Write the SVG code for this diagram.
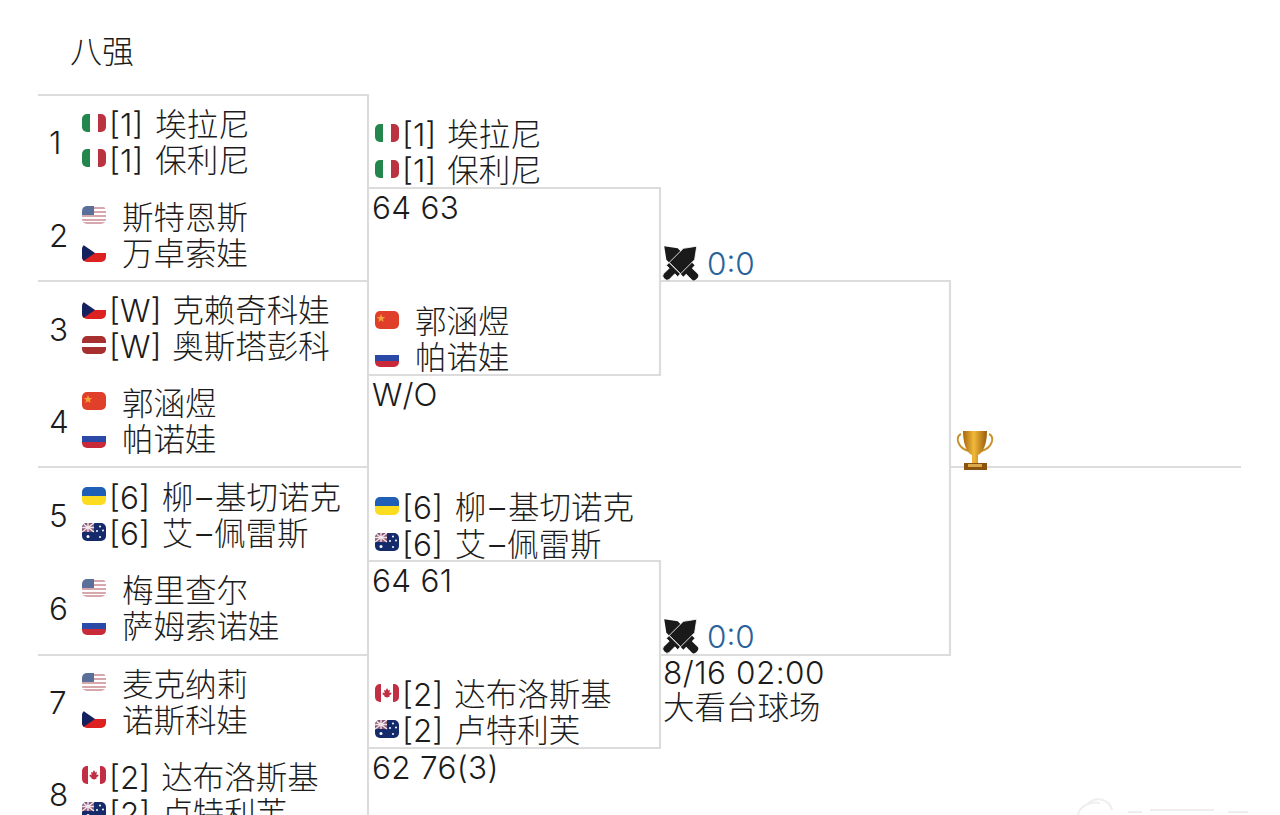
<svg xmlns="http://www.w3.org/2000/svg" width="1280" height="815" viewBox="0 0 1280 815">
<style>
text{font-family:"Inter","Noto Sans CJK SC",sans-serif;font-size:31.500px;font-weight:300;fill:#1c1c1c}
.c{stroke:#dcdcdc;stroke-width:2.200;fill:none}
text.s{fill:#2a6299}
</style>
<defs>
<linearGradient id="gold" x1="0" x2="1" y1="0" y2="0"><stop offset="0" stop-color="#a8660c"/><stop offset=".45" stop-color="#f0b93a"/><stop offset="1" stop-color="#9a5c0a"/></linearGradient>
<clipPath id="fc"><rect width="24" height="18" rx="5"/></clipPath>
<symbol id="it" width="24" height="18" overflow="visible"><g clip-path="url(#fc)"><rect width="8" height="18" fill="#23874d"/><rect x="8" width="8" height="18" fill="#fff"/><rect x="16" width="8" height="18" fill="#bb3340"/></g></symbol>
<symbol id="us" width="24" height="18" overflow="visible"><g clip-path="url(#fc)"><rect width="24" height="18" fill="#fff"/><path d="M0 2H24M0 6H24M0 10H24M0 14H24M0 17H24" stroke="#c98a92" stroke-width="1.400"/><rect width="12" height="9" fill="#5a6f99"/></g></symbol>
<symbol id="cz" width="24" height="18" overflow="visible"><g clip-path="url(#fc)"><rect width="24" height="9" fill="#fff"/><rect y="9" width="24" height="9" fill="#dd2020"/><path d="M0 0L13 9L0 18Z" fill="#15205f"/></g></symbol>
<symbol id="lv" width="24" height="18" overflow="visible"><g clip-path="url(#fc)"><rect width="24" height="18" fill="#a5302f"/><rect y="7" width="24" height="4" fill="#fff"/></g></symbol>
<symbol id="cn" width="24" height="18" overflow="visible"><g clip-path="url(#fc)"><rect width="24" height="18" fill="#e0402a"/><path d="M6 3l1.200 3 3 .1-2.400 2 .9 3-2.700-1.800-2.700 1.800.9-3-2.400-2 3-.1z" fill="#f3a13a"/></g></symbol>
<symbol id="ru" width="24" height="18" overflow="visible"><g clip-path="url(#fc)"><rect width="24" height="6" fill="#fff"/><rect y="6" width="24" height="6" fill="#2b4aa8"/><rect y="12" width="24" height="6" fill="#c92a3a"/></g></symbol>
<symbol id="ua" width="24" height="18" overflow="visible"><g clip-path="url(#fc)"><rect width="24" height="9" fill="#1f5fb5"/><rect y="9" width="24" height="9" fill="#fbdc1e"/></g></symbol>
<symbol id="au" width="24" height="18" overflow="visible"><g clip-path="url(#fc)"><rect width="24" height="18" fill="#152a6b"/><rect width="12" height="9" fill="#8a5a78"/><path d="M0 0L12 9M12 0L0 9M6 0V9M0 4.500H12" stroke="#f2e6ea" stroke-width="1.400"/><g fill="#fff"><circle cx="6" cy="13.500" r="1.500"/><circle cx="18" cy="3.500" r="1"/><circle cx="18" cy="14" r="1"/><circle cx="15" cy="8" r="1"/><circle cx="21" cy="7.500" r="1"/></g></g></symbol>
<symbol id="ca" width="24" height="18" overflow="visible"><g clip-path="url(#fc)"><rect width="24" height="18" fill="#fff"/><rect width="6" height="18" fill="#c22f45"/><rect x="18" width="6" height="18" fill="#c22f45"/><path d="M12 4l1.300 2.400 1.600-.6-.5 3.200 1.600-.6.6 1.400-2.400 1.900.3 1.200H12.400V14h-.8v-.9H9.500l.3-1.200-2.400-1.900.6-1.400 1.600.6-.5-3.200 1.600.6z" fill="#c22f45"/></g></symbol>
<path id="sword" d="M0-23L8-12V8H-8V-12ZM-8 8H8V12H4V20Q4 23 0 23Q-4 23-4 20V12H-8Z"/>
<symbol id="sw" width="35" height="33" overflow="visible"><g fill="#1a1a1a"><use href="#sword" transform="translate(17.500 16.500) rotate(-45)"/><use href="#sword" transform="translate(17.500 16.500) rotate(45)" stroke="#fff" stroke-width="0.800"/></g></symbol>
</defs>

<g id="title"><text x="70" y="63" style="font-size:32px">八强</text></g>

<g id="connectors" class="c">
<path d="M38 95H368V815"/>
<path d="M38 281H368"/>
<path d="M38 467H368"/>
<path d="M38 655H368"/>
<path d="M368 188H660V375H368"/>
<path d="M368 561H660V748H368"/>
<path d="M660 281H950V655H660"/>
<path d="M950 467H1241"/>
</g>

<g id="seed1"><text x="49" y="154">1</text><use href="#it" x="82" y="114"/><use href="#it" x="82" y="149"/><text x="109" y="136">[1] <tspan dx="3">埃拉尼</tspan></text><text x="109" y="172">[1] <tspan dx="3">保利尼</tspan></text></g>
<g id="seed2"><text x="49" y="247">2</text><use href="#us" x="82" y="206"/><use href="#cz" x="82" y="244"/><text x="122" y="229">斯特恩斯</text><text x="122" y="265">万卓索娃</text></g>
<g id="seed3"><text x="49" y="341">3</text><use href="#cz" x="82" y="301"/><use href="#lv" x="82" y="336"/><text x="109" y="322">[W] <tspan dx="2">克赖奇科娃</tspan></text><text x="109" y="358">[W] <tspan dx="2">奥斯塔彭科</tspan></text></g>
<g id="seed4"><text x="49" y="433">4</text><use href="#cn" x="82" y="392"/><use href="#ru" x="82" y="430"/><text x="122" y="415">郭涵煜</text><text x="122" y="451">帕诺娃</text></g>
<g id="seed5"><text x="49" y="527">5</text><use href="#ua" x="82" y="487"/><use href="#au" x="82" y="523"/><text x="109" y="509">[6] <tspan dx="3">柳</tspan><tspan dx="3">–</tspan><tspan dx="3">基切诺克</tspan></text><text x="109" y="545">[6] <tspan dx="3">艾</tspan><tspan dx="3">–</tspan><tspan dx="2">佩雷斯</tspan></text></g>
<g id="seed6"><text x="49" y="620">6</text><use href="#us" x="82" y="579"/><use href="#ru" x="82" y="617"/><text x="122" y="602">梅里查尔</text><text x="122" y="638">萨姆索诺娃</text></g>
<g id="seed7"><text x="49" y="714">7</text><use href="#us" x="82" y="673"/><use href="#cz" x="82" y="710"/><text x="122" y="696">麦克纳莉</text><text x="122" y="732">诺斯科娃</text></g>
<g id="seed8"><text x="49" y="806">8</text><use href="#ca" x="82" y="766"/><use href="#au" x="82" y="802"/><text x="109" y="789">[2] <tspan dx="2">达布洛斯基</tspan></text><text x="109" y="825">[2] <tspan dx="2">卢特利芙</tspan></text></g>

<g id="sf1"><use href="#it" x="375" y="124"/><use href="#it" x="375" y="160"/><text x="402" y="146">[1] <tspan dx="2">埃拉尼</tspan></text><text x="402" y="182">[1] <tspan dx="2">保利尼</tspan></text><text x="372" y="219" letter-spacing=".3">64 63</text></g>
<g id="sf2"><use href="#cn" x="375" y="311"/><use href="#ru" x="375" y="349"/><text x="415" y="333">郭涵煜</text><text x="415" y="369">帕诺娃</text><text x="372" y="406">W/O</text></g>
<g id="sf3"><use href="#ua" x="375" y="497"/><use href="#au" x="375" y="533"/><text x="402" y="519">[6] <tspan dx="3">柳</tspan><tspan dx="3">–</tspan><tspan dx="3">基切诺克</tspan></text><text x="402" y="556">[6] <tspan dx="3">艾</tspan><tspan dx="3">–</tspan><tspan dx="2">佩雷斯</tspan></text><text x="372" y="592" letter-spacing=".3">64 61</text></g>
<g id="sf4"><use href="#ca" x="375" y="684"/><use href="#au" x="375" y="720"/><text x="402" y="706">[2] <tspan dx="2">达布洛斯基</tspan></text><text x="402" y="742">[2] <tspan dx="2">卢特利芙</tspan></text><text x="372" y="779" letter-spacing=".3">62 76(3)</text></g>

<g id="final1"><use href="#sw" x="663" y="246"/><text x="707" y="275" class="s">0:0</text></g>
<g id="final2"><use href="#sw" x="663" y="619"/><text x="707" y="648" class="s">0:0</text><text x="663" y="684" letter-spacing=".5">8/16 02:00</text><text x="663" y="719">大看台球场</text></g>

<g id="trophy">
<path d="M961 434c-6 2-4 14 8 17M989 434c6 2 4 14-8 17" fill="none" stroke="#c8922a" stroke-width="2"/>
<path d="M963 431h24c0 13-4 22-9 24v8h-6v-8c-5-2-9-11-9-24z" fill="url(#gold)"/>
<path d="M968 463h14l1 5h-16z" fill="#b8801f"/><rect x="964" y="463" width="23" height="7" fill="#8a5410"/><rect x="968" y="464" width="14" height="3" fill="#d9a94a"/>
</g>
<g id="mark" fill="none" stroke="#eeeeee" stroke-width="2"><path d="M1078 815a18 14 0 0 1 22-12M1088 804a14 14 0 0 1 24 6M1128 812h14M1150 810h64M1228 812h20"/></g>
</svg>
